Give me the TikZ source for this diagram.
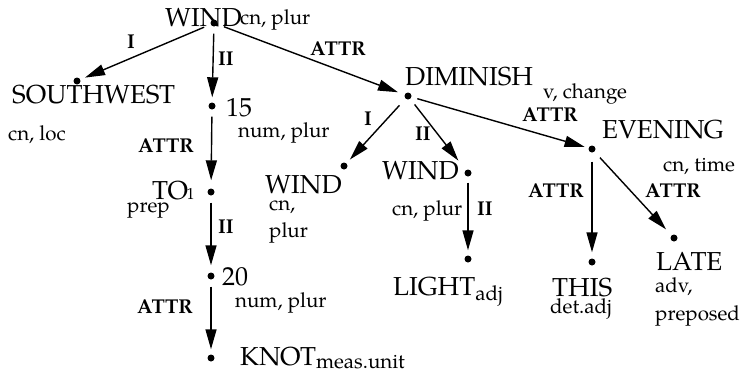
\documentclass[tikz,border=0pt]{standalone}
\usepackage{fontspec}
\setmainfont{texgyrepagella}[Extension=.otf, UprightFont=*-regular, BoldFont=*-bold, ItalicFont=*-italic, BoldItalicFont=*-bolditalic]
\usetikzlibrary{arrows.meta}
\begin{document}
\begin{tikzpicture}[x=1pt,y=-1pt,
  dot/.style={circle,fill=black,inner sep=0pt,minimum size=7pt},
  word/.style={anchor=base west,inner sep=0pt,font=\fontsize{26}{26}\selectfont},
  note/.style={anchor=base west,inner sep=0pt,font=\fontsize{20.5}{20.5}\selectfont},
  rel/.style={anchor=base west,inner sep=0pt,font=\fontsize{20}{20}\selectfont\bfseries},
  arc/.style={line width=1.4pt,-{Triangle[length=20pt,width=11pt]},shorten <=7pt,shorten >=5pt}]
\useasboundingbox (0,0) rectangle (741,373);

% dependency nodes
\node[dot] (wind)  at (214,23)  {};
\node[dot] (sw)    at (77,81)   {};
\node[dot] (n15)   at (212,106) {};
\node[dot] (to)    at (211,192) {};
\node[dot] (n20)   at (211,276) {};
\node[dot] (knot)  at (211,358) {};
\node[dot] (dim)   at (408,96)  {};
\node[dot] (windA) at (344,166) {};
\node[dot] (windB) at (468,173) {};
\node[dot] (light) at (468,259) {};
\node[dot] (eve)   at (592,149) {};
\node[dot] (this)  at (592,262) {};
\node[dot] (late)  at (674,238) {};

% words and their features
\node[word] (tWind) at (165,26) {WIND};
\node[note] (fWind) at (240,24) {cn, plur};
\node[word] (tSw) at (12,103) {SOUTHWEST};
\node[note] (fSw) at (8,140) {cn, loc};
\node[word] (t15) at (226,116) {15};
\node[note] (f15) at (238,137) {num, plur};
\node[word] (tTo) at (152,199) {TO\kern-1.5pt{\fontsize{16}{16}\selectfont 1}};
\node[note] (fTo) at (127,212) {prep};
\node[word] (t20) at (222,285) {20};
\node[note] (f20) at (235,307) {num, plur};
\node[word] (tKnot) at (240,365) {KNOT\raisebox{-3pt}{\fontsize{20.5}{20.5}\selectfont meas.unit}};
\node[word] (tDim) at (405,85) {DIMINISH};
\node[note] (fDim) at (543,98) {v, change};
\node[word] (tWindA) at (265,193) {WIND};
\node[note] (fWindA1) at (269,210) {cn,};
\node[note] (fWindA2) at (269,237) {plur};
\node[word] (tWindB) at (382,179) {WIND};
\node[note] (fWindB) at (392,215) {cn, plur};
\node[word] (tLight) at (393,295) {LIGHT\raisebox{-5pt}{\fontsize{20.5}{20.5}\selectfont adj}};
\node[word] (tEve) at (602,138) {EVENING};
\node[note] (fEve) at (663,171) {cn, time};
\node[word] (tThis) at (552,296) {THIS};
\node[note] (fThis) at (550,313) {det.adj};
\node[word] (tLate) at (656,270) {LATE};
\node[note] (fLate1) at (655,292) {adv,};
\node[note] (fLate2) at (655,320) {preposed};

% relation labels
\node[rel] (r1)  at (127,48)  {I};
\node[rel] (r2)  at (218,65)  {II};
\node[rel] (r3)  at (310,55)  {ATTR};
\node[rel] (r4)  at (138,152) {ATTR};
\node[rel] (r5)  at (218,233) {II};
\node[rel] (r6)  at (137,313) {ATTR};
\node[rel] (r7)  at (364,125) {I};
\node[rel] (r8)  at (415,140) {II};
\node[rel] (r9)  at (477,215) {II};
\node[rel] (r10) at (522,121) {ATTR};
\node[rel] (r11) at (528,197) {ATTR};
\node[rel] (r12) at (645,197) {ATTR};

% dependency arcs
\draw[arc] (wind) -- (sw);
\draw[arc] (wind) -- (n15);
\draw[arc,shorten >=7pt] (wind) -- (dim);
\draw[arc,shorten >=8pt] (n15) -- (to);
\draw[arc,shorten >=7pt] (to) -- (n20);
\draw[arc] (n20) -- (knot);
\draw[arc,shorten <=9pt] (dim) -- (windA);
\draw[arc,shorten >=12pt] (dim) -- (windB);
\draw[arc,shorten <=6pt] (windB) -- (light);
\draw[arc,shorten <=6pt,shorten >=4pt] (dim) -- (eve);
\draw[arc,shorten <=9pt,shorten >=6pt] (eve) -- (this);
\draw[arc,shorten <=8pt,shorten >=8pt] (eve) -- (late);
\end{tikzpicture}
\end{document}
